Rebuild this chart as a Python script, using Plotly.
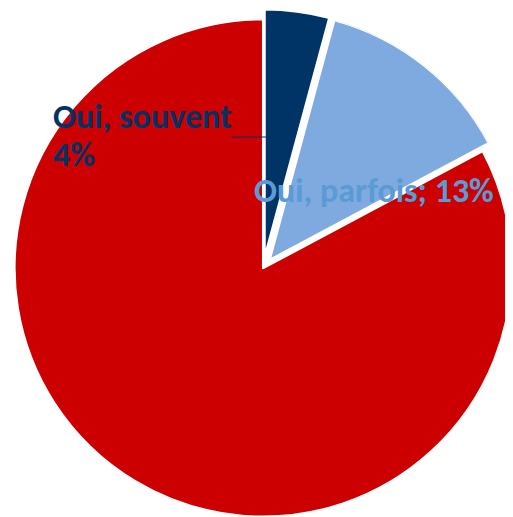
import math
import plotly.graph_objects as go

# ---- data ----
categories = ["Oui, souvent", "Oui, parfois", "Non"]
values = [4.2, 13.0, 82.8]
label_lines_souvent = ["Oui, souvent", "4%"]
label_parfois = "Oui, parfois; 13%"

# ---- style ----
W, H = 513, 517
OFF = 8                              # default page (body) margin of the html page
CX, CY, R = 263.2 - OFF, 268.0 - OFF, 248.8   # pixel centre / radius of the pie
PULL = 10                            # pixel explode distance
NAVY = "#003366"
LIGHT = "#7EAADF"
RED = "#CC0000"
LIGHT_TXT = "#5B9BD5"
CLEAR = "rgba(0,0,0,0)"
FONT = "Carlito, Lato, sans-serif"
FS = 34
LW = 2.5

total = sum(values)
starts = []
acc = 0
for v in values:
    starts.append(360 * acc / total)
    acc += v
widths = [360 * v / total for v in values]
mids = [s + w / 2 for s, w in zip(starts, widths)]


def px(x):
    return (x - OFF) / W


def py(y):
    return (H - (y - OFF)) / H


def pulled_centre(i):
    a = math.radians(mids[i])
    return CX + PULL * math.sin(a), CY - PULL * math.cos(a)


def pie_domain(cx, cy, r):
    return dict(x=[(cx - r) / W, (cx + r) / W], y=[(H - (cy + r)) / H, (H - (cy - r)) / H])


fig = go.Figure()

# red slice (not exploded)
fig.add_trace(go.Pie(
    labels=categories, values=values, sort=False, direction="clockwise", rotation=0,
    marker=dict(colors=[CLEAR, CLEAR, RED], line=dict(color="white", width=[0, 0, LW])),
    textinfo="none", hoverinfo="label+percent", showlegend=False,
    domain=pie_domain(CX, CY, R),
))

# navy slice (exploded)
ncx, ncy = pulled_centre(0)
fig.add_trace(go.Pie(
    labels=categories, values=values, sort=False, direction="clockwise", rotation=0,
    marker=dict(colors=[NAVY, CLEAR, CLEAR], line=dict(color="white", width=[LW, 0, 0])),
    textinfo="none", hoverinfo="label+percent", showlegend=False,
    domain=pie_domain(ncx, ncy, R),
))

# light-blue slice (exploded) as a polar wedge
lcx, lcy = pulled_centre(1)
sec = [20, 90]
bx1 = math.cos(math.radians(sec[0]))
fig.add_trace(go.Barpolar(
    r=[1], theta=[mids[1]], width=[widths[1]], base=0,
    marker=dict(color=LIGHT, line=dict(color="white", width=LW)),
    name=categories[1], showlegend=False, subplot="polar",
))
fig.update_layout(polar=dict(
    domain=dict(x=[lcx / W, (lcx + bx1 * R) / W], y=[(H - lcy) / H, (H - (lcy - R)) / H]),
    sector=sec, bgcolor=CLEAR, hole=0,
    radialaxis=dict(range=[0, 1], visible=False),
    angularaxis=dict(rotation=90, direction="clockwise", visible=False),
    bargap=0,
))

# labels
fig.add_annotation(x=px(51), y=py(116), xref="paper", yref="paper", xanchor="left", yanchor="middle",
                   text=f"<b>{label_lines_souvent[0]}</b>", showarrow=False,
                   font=dict(family=FONT, size=FS, color=NAVY))
fig.add_annotation(x=px(51), y=py(154), xref="paper", yref="paper", xanchor="left", yanchor="middle",
                   text=f"<b>{label_lines_souvent[1]}</b>", showarrow=False,
                   font=dict(family=FONT, size=FS, color=NAVY))
fig.add_annotation(x=px(252), y=py(190), xref="paper", yref="paper", xanchor="left", yanchor="middle",
                   text=f"<b>{label_parfois}</b>", showarrow=False,
                   font=dict(family=FONT, size=FS, color=LIGHT_TXT))
# leader line
fig.add_shape(type="line", xref="paper", yref="paper", x0=px(232), x1=px(268),
              y0=py(137), y1=py(137), line=dict(color=NAVY, width=1))

fig.update_layout(width=W, height=H, margin=dict(l=0, r=0, t=0, b=0),
                  paper_bgcolor="white", plot_bgcolor="white")
fig.write_html("out.html")
